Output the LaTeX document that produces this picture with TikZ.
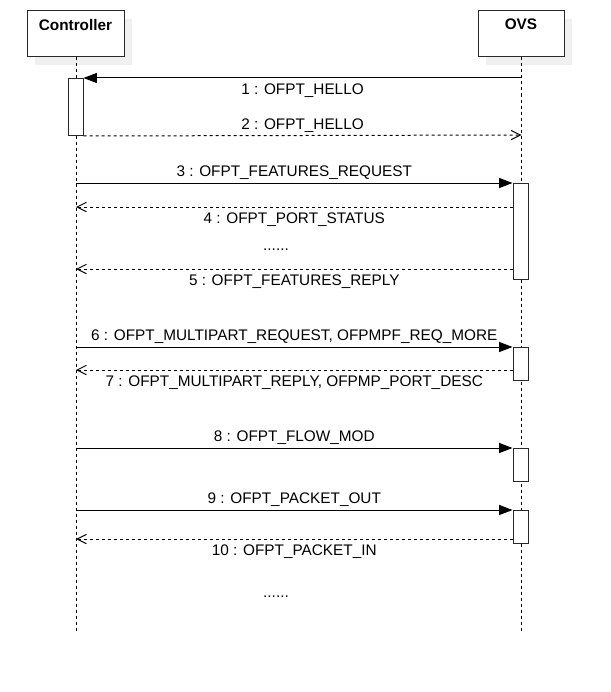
\documentclass[tikz,border=0pt]{standalone}
\usepackage{fontspec}
\setmainfont{Liberation Sans}
\usetikzlibrary{arrows.meta,positioning,shadows}
\definecolor{sdline}{RGB}{40,40,40}
\definecolor{sdshadow}{RGB}{240,240,240}
\tikzstyle{actor} = [draw=sdline,line width=0.75pt,fill=white,minimum height=34.5pt,drop shadow={shadow xshift=6pt,shadow yshift=-6pt,fill=sdshadow,opacity=1}]
\tikzstyle{title} = [anchor=north,font=\fontsize{11.5}{13}\selectfont\bfseries,yshift=-3pt]
\tikzstyle{activation} = [draw=sdline,line width=0.75pt,fill=white,anchor=north,minimum width=11.25pt,inner sep=0pt]
\tikzstyle{lifeline} = [line width=0.75pt,dash pattern=on 2.25pt off 2.25pt]
\tikzstyle{call} = [line width=0.75pt,-{Triangle[length=10pt,width=7.5pt]}]
\tikzstyle{reply} = [line width=0.75pt,dash pattern=on 2.25pt off 2.25pt,-{Straight Barb[length=7pt,width=7pt]}]
\tikzstyle{msg} = [font=\fontsize{11.5}{13}\selectfont,inner sep=2pt]
\tikzstyle{msgbelow} = [msg,below,yshift=-2pt]

\begin{document}
\begin{tikzpicture}[x=0.75pt,y=-0.75pt]
\useasboundingbox (0,0) rectangle (610,692);

% Actors
\node[actor,minimum width=72.75pt,label={[title]north:Controller}] (ctrl) at (75.5,34) {};
\node[actor,minimum width=64.5pt,label={[title]north:OVS}] (ovs) at (521,34) {};

% Lifelines
\coordinate (ctrlend) at (76,632);
\coordinate (ovsend) at (521.5,632);
\draw[lifeline] (ctrl.south -| ctrlend) -- (ctrlend);
\draw[lifeline] (ovs.south -| ovsend) -- (ovsend);

% Activations
\node[activation,minimum height=42.75pt] (ctrlact) at (75.5,78) {};
\node[activation,minimum height=72pt] (ovsact1) at (520.5,183) {};
\node[activation,minimum height=24.75pt] (ovsact2) at (520.5,347) {};
\node[activation,minimum height=24.75pt] (ovsact3) at (520.5,448) {};
\node[activation,minimum height=24.75pt] (ovsact4) at (520.5,510) {};

% Points on the lifelines
\coordinate (o1) at (521.5,78);
\coordinate (o2) at (521.5,135);
\coordinate (c3) at (76,183);
\coordinate (c4) at (76,207);
\coordinate (c5) at (76,269);
\coordinate (c6) at (76,347);
\coordinate (c7) at (76,370);
\coordinate (c8) at (76,448);
\coordinate (c9) at (76,510);
\coordinate (c10) at (76,539);

% Messages
\draw[call] (o1) -- (ctrlact.north east) node[msgbelow,midway] {1 : OFPT\_HELLO};
\draw[reply] (ctrlact.south east) -- (o2) node[msg,midway,above] {2 : OFPT\_HELLO};
\draw[call] (c3) -- (ovsact1.north west) node[msg,midway,above] {3 : OFPT\_FEATURES\_REQUEST};
\draw[reply] (ovsact1.west |- c4) -- (c4) node[msgbelow,midway] {4 : OFPT\_PORT\_STATUS};
\draw[reply] (ovsact1.west |- c5) -- (c5) node[msgbelow,midway] {5 : OFPT\_FEATURES\_REPLY};
\draw[call] (c6) -- (ovsact2.north west) node[msg,midway,above] {6 : OFPT\_MULTIPART\_REQUEST, OFPMPF\_REQ\_MORE};
\draw[reply] (ovsact2.west |- c7) -- (c7) node[msgbelow,midway] {7 : OFPT\_MULTIPART\_REPLY, OFPMP\_PORT\_DESC};
\draw[call] (c8) -- (ovsact3.north west) node[msg,midway,above] {8 : OFPT\_FLOW\_MOD};
\draw[call] (c9) -- (ovsact4.north west) node[msg,midway,above] {9 : OFPT\_PACKET\_OUT};
\draw[reply] (ovsact4.west |- c10) -- (c10) node[msgbelow,midway] {10 : OFPT\_PACKET\_IN};

% Gaps
\node[msg] (dots1) at (276,250) {......};
\node[msg] (dots2) at (276,597) {......};
\end{tikzpicture}
\end{document}
